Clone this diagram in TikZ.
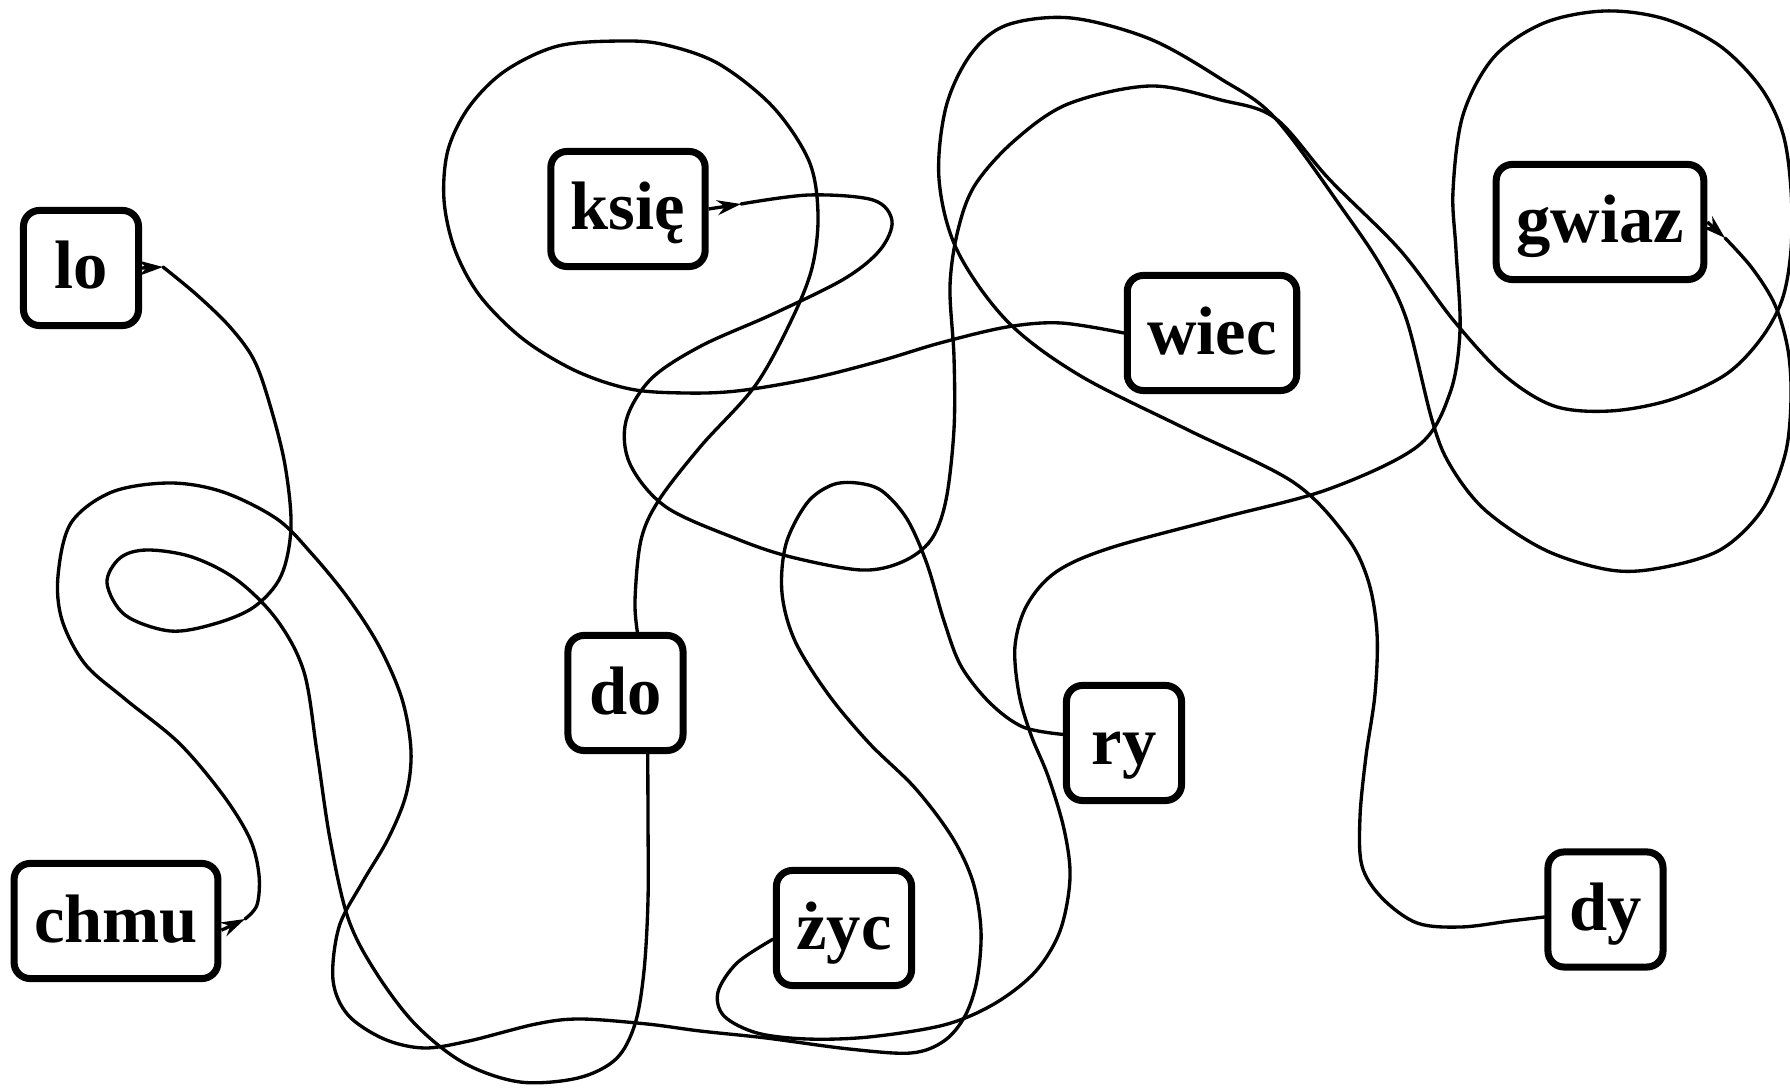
\documentclass[tikz,border=0pt]{standalone}
\usepackage{fontspec}
\setmainfont{Liberation Serif}
\usetikzlibrary{arrows.meta}
\tikzset{
  syl/.style={draw, line width=2pt, rounded corners=0.16cm, minimum width=1.15cm,
    minimum height=1.15cm, inner xsep=0.2cm, text height=0.55cm, text depth=0.13cm,
    font=\bfseries\fontsize{19.5}{22}\selectfont},
  curve/.style={line width=0.95pt, line join=round, line cap=round},
  tipline/.style={line width=0.95pt, -{Stealth[length=0.24cm,width=0.15cm]}}
}
\begin{document}
\begin{tikzpicture}[x=0.01cm,y=-0.01cm]
\useasboundingbox (0,0) rectangle (1790,1089);
\clip (0,0) rectangle (1790,1089);
\node[syl] (lo) at (81,268) {lo};
\node[syl] (ksie) at (628,209) {księ};
\node[syl] (gwiaz) at (1600,222) {gwiaz};
\node[syl] (wiec) at (1212,333) {wiec};
\node[syl] (do) at (625.5,693) {do};
\node[syl] (ry) at (1124,743) {ry};
\node[syl] (chmu) at (116,921) {chmu};
\node[syl] (zyc) at (844,928) {życ};
\node[syl] (dy) at (1605.5,909.5) {dy};

\coordinate (loA) at (163,267);
\coordinate (ksieA) at (741,204);
\coordinate (gwiazA) at (1725,238);
\coordinate (chmuA) at (245,919);

% lo -> do
\draw[tipline] (lo.east) -- (loA);
\draw[curve] plot[smooth,tension=0.55] coordinates {(loA) (197,295) (230,327) (254,360) (270,405) (285,465) (291,527) (281,576) (254,607) (214,624) (170,631) (125,615) (107,583) (120,558) (147,550) (192,557) (237,580) (277,620) (304,672) (317,752) (330,839) (348,918) (375,971) (415,1024) (464,1063) (520,1082) (578,1078) (616,1059) (635,1024) (644,971) (648,900) (648,820) (do.-70)};

% do -> wiec
\draw[curve] plot[smooth,tension=0.55] coordinates {(do.79) (635,600) (641,540) (659,500) (701,446) (755,386) (791,321) (812,268) (818,214) (809,161) (773,107) (719,64) (666,45) (623,41) (558,46) (505,71) (469,107) (448,150) (444,200) (455,250) (480,296) (523,339) (576,371) (630,389) (684,393) (737,391) (809,379) (880,361) (940,343) (1007,327) (1061,323) (wiec.west)};

% ksie -> zyc
\draw[tipline] (ksie.east) -- (ksieA);
\draw[curve] plot[smooth,tension=0.55] coordinates {(ksieA) (809,195) (873,200) (892,221) (880,250) (844,279) (773,314) (701,346) (651,379) (626,421) (630,464) (666,507) (737,539) (791,557) (861,570) (902,562) (931,540) (946,500) (954,429) (954,357) (950,286) (958,230) (975,185) (1014,141) (1068,104) (1150,86) (1221,100) (1275,118) (1329,179) (1400,250) (1454,321) (1504,375) (1554,406) (1610,411) (1670,400) (1725,375) (1760,340) (1782,300) (1791,250) (1791,190) (1783,134) (1761,88) (1720,46) (1665,19) (1605,11) (1544,23) (1494,57) (1463,115) (1453,191) (1456,250) (1460,330) (1450,393) (1418,446) (1329,489) (1221,518) (1110,548) (1056,572) (1027,605) (1015,646) (1019,694) (1031,735) (1048,776) (1064,829) (1070,878) (1060,931) (1035,972) (994,1004) (944,1025) (869,1037) (807,1039) (757,1033) (724,1016) (718,992) (737,963) (zyc.189)};

% gwiaz -> dy
\draw[tipline] (gwiaz.east) -- (gwiazA);
\draw[curve] plot[smooth,tension=0.55] coordinates {(gwiazA) (1752,268) (1775,305) (1788,350) (1791,400) (1785,455) (1762,510) (1720,550) (1660,568) (1610,570) (1545,550) (1485,510) (1450,465) (1432,420) (1407,321) (1382,268) (1346,214) (1275,118) (1221,79) (1150,39) (1071,18) (1007,25) (971,54) (946,107) (939,179) (957,250) (1007,321) (1079,375) (1186,429) (1293,482) (1346,536) (1368,580) (1377,633) (1375,694) (1366,756) (1360,817) (1362,866) (1382,898) (1417,923) (1461,927) (1510,921) (dy.187)};

% chmu -> ry
\draw[tipline] (chmu.-5) -- (chmuA);
\draw[curve] plot[smooth,tension=0.55] coordinates {(chmuA) (257,905) (259,875) (250,839) (223,795) (179,743) (125,699) (85,664) (62,620) (58,576) (71,523) (112,492) (170,483) (223,492) (277,519) (312,554) (348,598) (379,646) (402,699) (411,751) (406,795) (388,839) (362,883) (339,927) (333,980) (348,1015) (384,1039) (424,1048) (469,1041) (536,1024) (580,1019) (647,1024) (700,1031) (766,1038) (849,1049) (911,1053) (944,1041) (965,1016) (977,980) (981,931) (973,882) (952,837) (915,788) (869,743) (828,694) (795,641) (782,593) (786,544) (807,503) (832,485) (857,483) (882,491) (907,519) (927,564) (944,621) (961,666) (990,703) (1023,727) (ry.172)};
\end{tikzpicture}
\end{document}
